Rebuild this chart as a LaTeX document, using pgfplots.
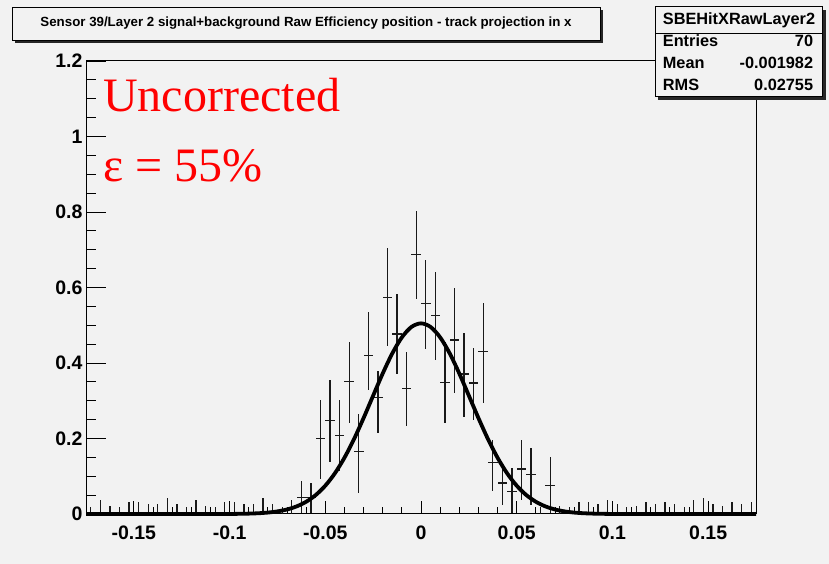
\documentclass[border=0pt]{standalone}
\usepackage{fontspec}
\setmainfont{Liberation Sans}
\newfontfamily\timesfont{Liberation Serif}
\usepackage{pgfplots}
\pgfplotsset{compat=1.18}
\usepackage{pgfplotstable}
\definecolor{canvas}{HTML}{F2F2F2}
\definecolor{rootred}{HTML}{FF0000}

% bins with entries: centre, efficiency, upper and lower error
\pgfplotstableread{
x        y      ep     em
-0.0625  0.044  0.044  0.042
-0.0575  0.043  0.040  0.041
-0.0525  0.201  0.102  0.108
-0.0475  0.248  0.108  0.110
-0.0425  0.209  0.093  0.094
-0.0375  0.350  0.105  0.109
-0.0325  0.165  0.100  0.110
-0.0275  0.420  0.115  0.091
-0.0225  0.309  0.069  0.095
-0.0175  0.574  0.130  0.130
-0.0125  0.477  0.106  0.106
-0.0075  0.333  0.097  0.099
-0.0025  0.688  0.115  0.118
 0.0025  0.557  0.115  0.119
 0.0075  0.525  0.115  0.117
 0.0125  0.349  0.106  0.108
 0.0175  0.461  0.137  0.141
 0.0225  0.371  0.108  0.114
 0.0275  0.347  0.092  0.097
 0.0325  0.430  0.130  0.135
 0.0375  0.137  0.060  0.075
 0.0425  0.082  0.053  0.058
 0.0475  0.060  0.062  0.058
 0.0525  0.119  0.076  0.081
 0.0575  0.104  0.071  0.080
 0.0675  0.076  0.074  0.074
}\filledbins

% empty bins: only an upper error above zero
\pgfplotstableread{
x        y  ep     em
-0.1725  0  0.019  0
-0.1675  0  0.037  0
-0.1625  0  0.022  0
-0.1575  0  0.019  0
-0.1525  0  0.031  0
-0.1475  0  0.031  0
-0.1425  0  0.026  0
-0.1375  0  0.026  0
-0.1325  0  0.042  0
-0.1275  0  0.026  0
-0.1225  0  0.019  0
-0.1175  0  0.037  0
-0.1125  0  0.022  0
-0.1075  0  0.019  0
-0.1025  0  0.031  0
-0.0975  0  0.031  0
-0.0925  0  0.026  0
-0.0875  0  0.026  0
-0.0825  0  0.042  0
-0.0775  0  0.026  0
-0.0725  0  0.019  0
-0.0675  0  0.037  0
 0.0625  0  0.018  0
 0.0725  0  0.022  0
 0.0775  0  0.019  0
 0.0825  0  0.031  0
 0.0875  0  0.031  0
 0.0925  0  0.026  0
 0.0975  0  0.037  0
 0.1025  0  0.026  0
 0.1075  0  0.019  0
 0.1125  0  0.022  0
 0.1175  0  0.031  0
 0.1225  0  0.026  0
 0.1275  0  0.031  0
 0.1325  0  0.026  0
 0.1375  0  0.019  0
 0.1425  0  0.037  0
 0.1475  0  0.042  0
 0.1525  0  0.026  0
 0.1575  0  0.022  0
 0.1625  0  0.031  0
 0.1675  0  0.026  0
 0.1725  0  0.031  0
}\emptybins

% gaussian fit, sampled
\pgfplotstableread{
x       y
-0.175  0
-0.150  0
-0.125  0
-0.100  0.0002
-0.095  0.0005
-0.090  0.0010
-0.085  0.0020
-0.080  0.0038
-0.075  0.0069
-0.070  0.0120
-0.065  0.0201
-0.060  0.0324
-0.055  0.0502
-0.050  0.0750
-0.045  0.1077
-0.040  0.1490
-0.035  0.1983
-0.030  0.2542
-0.025  0.3135
-0.020  0.3722
-0.015  0.4254
-0.010  0.4679
-0.005  0.4955
 0.000  0.5050
 0.005  0.4955
 0.010  0.4679
 0.015  0.4254
 0.020  0.3722
 0.025  0.3135
 0.030  0.2542
 0.035  0.1983
 0.040  0.1490
 0.045  0.1077
 0.050  0.0750
 0.055  0.0502
 0.060  0.0324
 0.065  0.0201
 0.070  0.0120
 0.075  0.0069
 0.080  0.0038
 0.085  0.0020
 0.090  0.0010
 0.095  0.0005
 0.100  0.0002
 0.125  0
 0.150  0
 0.175  0
}\fitcurve

\begin{document}
\begin{tikzpicture}[x=1pt,y=1pt]
% canvas
\path[use as bounding box, fill=canvas] (0,0) rectangle (829,564);

% title box with shadow
\fill[black!85] (15,521) rectangle (603,554);
\filldraw[fill=canvas, draw=black, line width=0.9pt] (12,524) rectangle (600,557);
\node[font=\fontsize{13.3}{15}\selectfont\bfseries] at (306,540.5)
  {Sensor 39/Layer 2 signal+background Raw Efficiency position - track projection in x};

\begin{axis}[
  at={(86pt,50pt)}, anchor=south west,
  scale only axis, width=670pt, height=453pt,
  xmin=-0.175, xmax=0.175, ymin=0, ymax=1.2,
  clip=false,
  axis line style={line width=1pt, black},
  tick align=inside, tick pos=left,
  xtick={-0.15,-0.1,-0.05,0,0.05,0.1,0.15},
  xticklabels={-0.15,-0.1,-0.05,0,0.05,0.1,0.15},
  minor x tick num=4,
  ytick={0,0.2,0.4,0.6,0.8,1,1.2},
  yticklabels={0,0.2,0.4,0.6,0.8,1,1.2},
  minor y tick num=3,
  xtick style={/pgfplots/major tick length=13pt, /pgfplots/minor tick length=6.5pt, line width=0.9pt, black},
  ytick style={/pgfplots/major tick length=20pt, /pgfplots/minor tick length=10pt, line width=0.9pt, black},
  every tick label/.append style={font=\fontsize{19.5}{21}\selectfont\bfseries},
  xticklabel style={yshift=-8pt},
]
% empty bins
\addplot[draw=none, mark=none,
  error bars/.cd, y dir=both, y explicit, error mark=none,
  error bar style={draw=black!90, solid, line width=1.2pt}]
  table[x=x, y=y, y error plus=ep, y error minus=em] {\emptybins};
% bins with entries
\addplot[draw=none, mark=none,
  error bars/.cd, x dir=both, x fixed=0.0025, y dir=both, y explicit, error mark=none,
  error bar style={draw=black!90, solid, line width=1.2pt}]
  table[x=x, y=y, y error plus=ep, y error minus=em] {\filledbins};
% fit
\addplot[black, line width=3.8pt, smooth, mark=none] table[x=x, y=y] {\fitcurve};
\end{axis}

% statistics box with shadow
\fill[black!85] (658,464.3) rectangle (825.7,554.3);
\filldraw[fill=canvas, draw=black, line width=0.9pt] (655,467.3) rectangle (822.7,557.3);
\draw[black, line width=0.9pt] (655,530.7) -- (822.7,530.7);
\begin{scope}[every node/.style={font=\fontsize{16.3}{18}\selectfont\bfseries, inner sep=0pt}]
\node at (739,543.8) {SBEHitXRawLayer2};
\node[anchor=base west] at (662.7,517) {Entries};
\node[anchor=base east] at (813.3,517) {70};
\node[anchor=base west] at (662.7,495.4) {Mean};
\node[anchor=base east] at (813.3,495.4) {-0.001982};
\node[anchor=base west] at (662.7,473.7) {RMS};
\node[anchor=base east] at (813.3,473.7) {0.02755};
\end{scope}

% annotation
\begin{scope}[every node/.style={font=\timesfont\fontsize{48}{50}\selectfont, text=rootred, inner sep=0pt, anchor=base west}]
\node at (103,452) {Uncorrected};
\node at (103,382) {ε = 55\%};
\end{scope}
\end{tikzpicture}
\end{document}
